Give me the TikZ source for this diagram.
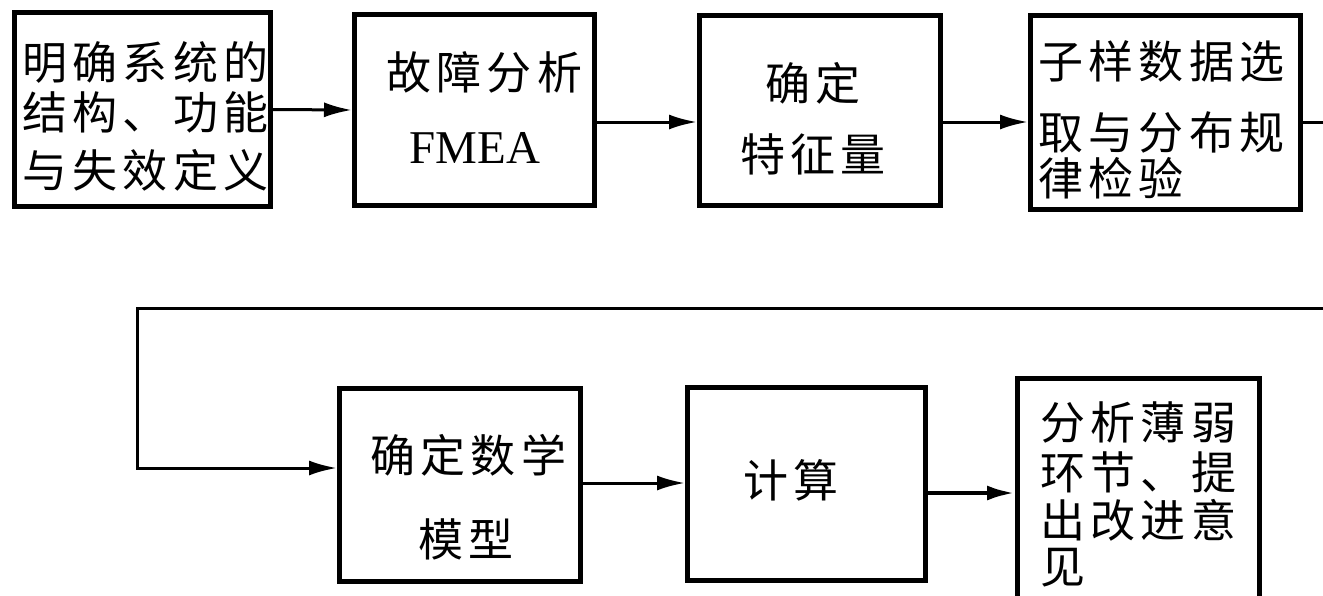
\documentclass[tikz,border=0pt]{standalone}
\usepackage{fontspec}
\setmainfont{Liberation Serif}
\newfontfamily\cjk[LetterSpace=12]{Noto Sans CJK SC}
\usetikzlibrary{arrows.meta}
\tikzset{
  box/.style={draw, line width=5pt, rectangle, inner sep=0pt, fill=white},
  lbl/.style={inner sep=0pt, font=\cjk\fontsize{45}{48}\selectfont},
  lat/.style={inner sep=0pt, font=\fontsize{47}{50}\selectfont},
  conn/.style={line width=3pt},
  arr/.style={conn, -{Latex[length=28pt,width=15pt]}}
}
\begin{document}
\begin{tikzpicture}[x=1pt,y=-1pt]
\useasboundingbox (0,0) rectangle (1323,595);
\clip (0,0) rectangle (1323,595);
% boxes (outer extents measured, path centred)
\node[box, minimum width=256pt, minimum height=194pt] (b1) at (142.5,109.5) {};
\node[box, minimum width=240pt, minimum height=191pt] (b2) at (474.5,110) {};
\node[box, minimum width=241pt, minimum height=190pt] (b3) at (820,110.5) {};
\node[box, minimum width=270pt, minimum height=194pt] (b4) at (1165.5,112.5) {};
\node[box, minimum width=241pt, minimum height=193pt] (b5) at (460,485) {};
\node[box, minimum width=238pt, minimum height=193pt] (b6) at (806.5,484) {};
\node[box, minimum width=242pt, minimum height=259pt] (b7) at (1138.5,508) {};
% texts
\node[lbl, anchor=west] (t1a) at (22,62) {明确系统的};
\node[lbl, anchor=west] (t1b) at (22,112) {结构、功能};
\node[lbl, anchor=west] (t1c) at (22,170) {与失效定义};
\node[lbl, anchor=west] (t2a) at (386,72) {故障分析};
\node[lat] (t2b) at (475,148) {FMEA};
\node[lbl, anchor=west] (t3a) at (765,83) {确定};
\node[lbl, anchor=west] (t3b) at (740,154) {特征量};
\node[lbl, anchor=west] (t4a) at (1038,61) {子样数据选};
\node[lbl, anchor=west] (t4b) at (1038,132) {取与分布规};
\node[lbl, anchor=west] (t4c) at (1038,178) {律检验};
\node[lbl, anchor=west] (t5a) at (370,455) {确定数学};
\node[lbl, anchor=west] (t5b) at (418,539) {模型};
\node[lbl, anchor=west] (t6a) at (743,480) {计算};
\node[lbl, anchor=west] (t7a) at (1040,422) {分析薄弱};
\node[lbl, anchor=west] (t7b) at (1040,472) {环节、提};
\node[lbl, anchor=west] (t7c) at (1040,520) {出改进意};
\node[lbl, anchor=west] (t7d) at (1040,568) {见};
% connectors
\coordinate (r1) at (1323,122);
\coordinate (r2) at (1323,308);
\coordinate (l2) at (137,308);
\draw[arr] (b1.east) -- (b2.west);
\draw[arr] ([yshift=-12pt]b2.east) -- ([yshift=-12pt]b2.east -| b3.west);
\draw[arr] ([yshift=-11.5pt]b3.east) -- ([yshift=-11.5pt]b3.east -| b4.west);
\draw[conn] (b4.east |- r1) -- (r1);
\draw[arr] (r2) -- (l2) |- ([yshift=17pt]b5.west);
\draw[arr] ([yshift=2pt]b5.east) -- ([yshift=2pt]b5.east -| b6.west);
\draw[arr, line width=4.5pt] ([yshift=-9pt]b6.east) -- ([yshift=-9pt]b6.east -| b7.west);
\end{tikzpicture}
\end{document}
